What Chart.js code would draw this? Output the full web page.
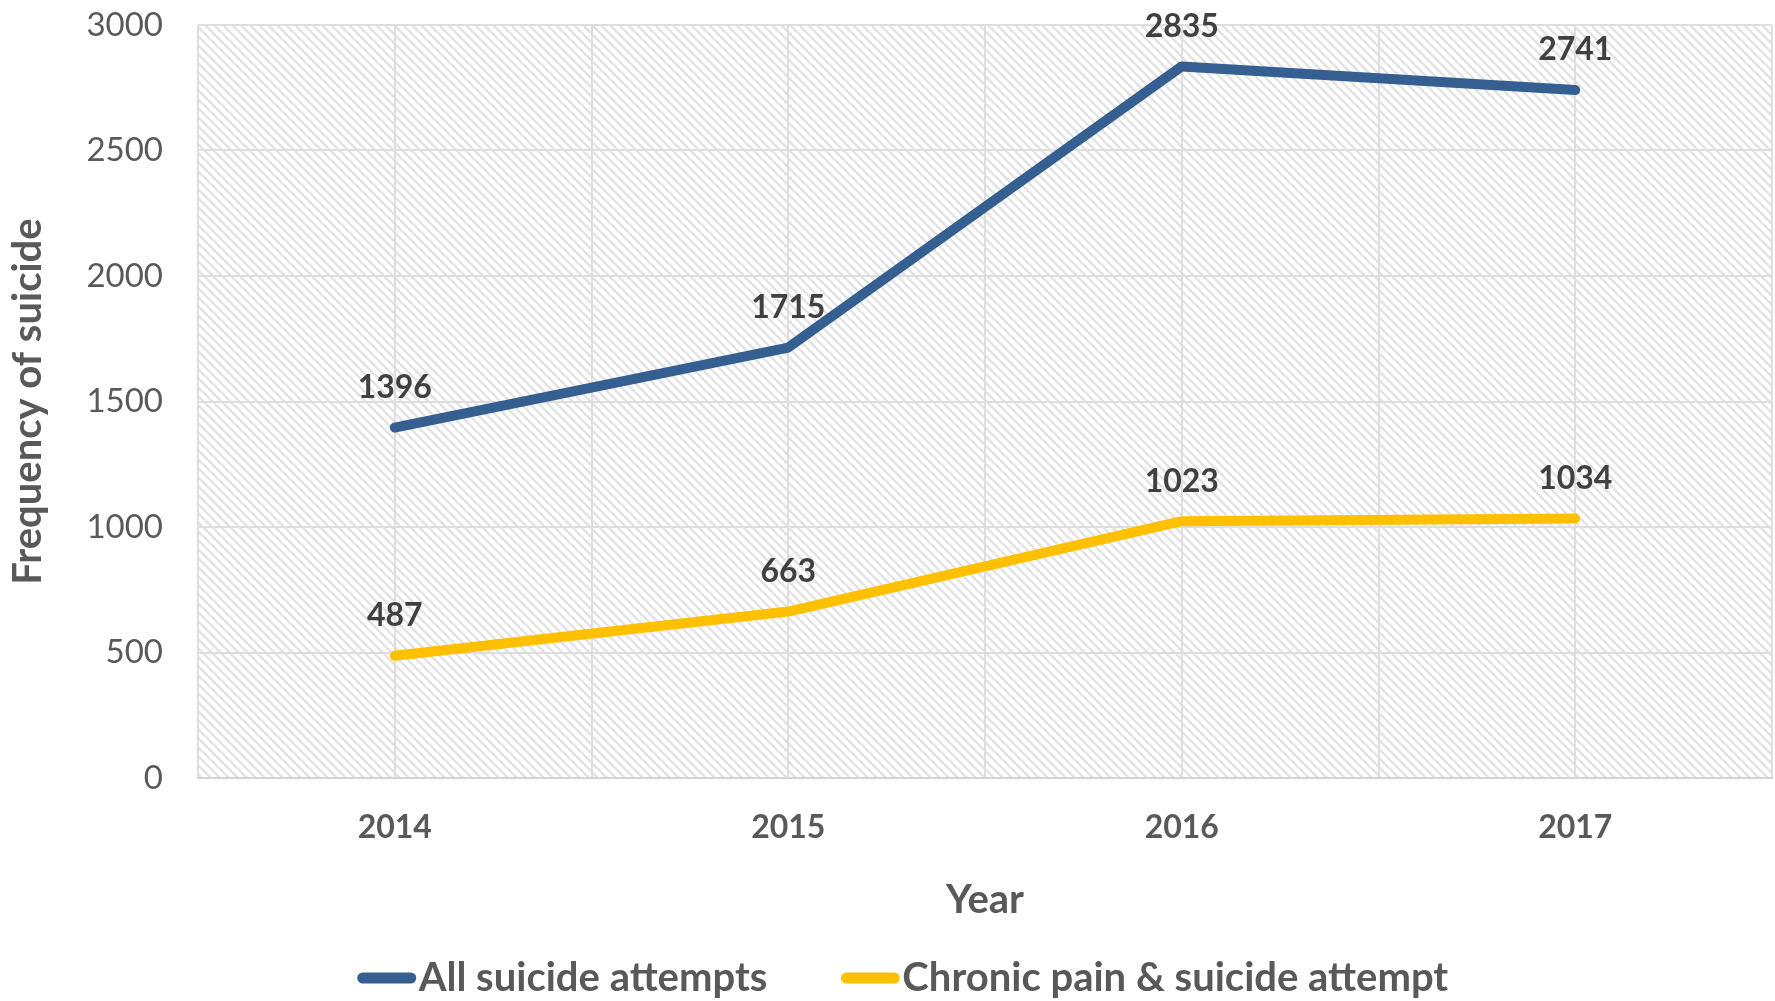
<!DOCTYPE html>
<html>
<head>
<meta charset="utf-8">
<title>Frequency of suicide</title>
<script src="https://cdn.jsdelivr.net/npm/chart.js@4/dist/chart.umd.min.js"></script>
<style>
  html, body { margin: 0; padding: 0; background: #fff; }
  #wrap { width: 1775px; height: 1001px; }
</style>
</head>
<body>
<div id="wrap"><canvas id="chart" width="1775" height="1001"></canvas></div>
<script>
// Yearly suicide attempt counts, all vs. with chronic pain
const years = ['2014', '2015', '2016', '2017'];
const allAttempts = [1396, 1715, 2835, 2741];
const chronicPain = [487, 663, 1023, 1034];
const seriesNames = ['All suicide attempts', 'Chronic pain & suicide attempt'];
const seriesColors = ['#365F91', '#FFC000'];

const FONT = 'Lato, "Open Sans", sans-serif';
const GRID = '#dedede';

// diagonal hatch behind the plot
function makeHatch(ctx) {
  const s = 9;
  const c = document.createElement('canvas');
  c.width = s; c.height = s;
  const g = c.getContext('2d');
  g.fillStyle = '#ffffff';
  g.fillRect(0, 0, s, s);
  g.strokeStyle = '#e3e3e3';
  g.lineWidth = 2.5;
  for (let k = -1; k <= 1; k++) {
    g.beginPath();
    g.moveTo(-1, k * s - 1);
    g.lineTo(s + 1, s + k * s + 1);
    g.stroke();
  }
  return ctx.createPattern(c, 'repeat');
}

const hatchPlugin = {
  id: 'hatch',
  beforeDraw(chart) {
    const { ctx, chartArea: a } = chart;
    ctx.save();
    ctx.fillStyle = makeHatch(ctx);
    ctx.fillRect(a.left, a.top, a.right - a.left, a.bottom - a.top);
    ctx.restore();
  }
};

// extra vertical lines through each category centre
const centerLines = {
  id: 'centerLines',
  beforeDatasetsDraw(chart) {
    const { ctx, chartArea: a, scales } = chart;
    ctx.save();
    ctx.strokeStyle = GRID;
    ctx.lineWidth = 2;
    years.forEach((y, i) => {
      const x = Math.round(scales.x.getPixelForValue(i));
      ctx.beginPath();
      ctx.moveTo(x, a.top);
      ctx.lineTo(x, a.bottom);
      ctx.stroke();
    });
    ctx.restore();
  }
};

const valueLabels = {
  id: 'valueLabels',
  afterDatasetsDraw(chart) {
    const { ctx } = chart;
    ctx.save();
    ctx.font = 'bold 32px ' + FONT;
    ctx.fillStyle = '#404040';
    ctx.textAlign = 'center';
    ctx.textBaseline = 'middle';
    chart.data.datasets.forEach((ds, di) => {
      const meta = chart.getDatasetMeta(di);
      meta.data.forEach((pt, i) => {
        ctx.fillText(String(ds.data[i]), pt.x, pt.y - 40);
      });
    });
    ctx.restore();
  }
};

// legend drawn by hand so the sample line sits right against the text
const lineLegend = {
  id: 'lineLegend',
  afterDraw(chart) {
    const { ctx } = chart;
    const lineW = 60, gap = 2, spacing = 73;
    const cy = 978;
    ctx.save();
    ctx.font = 'bold 40px ' + FONT;
    ctx.textBaseline = 'middle';
    const items = chart.data.datasets.map(ds => ({
      text: ds.label, color: ds.borderColor, w: ctx.measureText(ds.label).width
    }));
    let total = 0;
    items.forEach((it, i) => { total += lineW + gap + it.w + (i ? spacing : 0); });
    let x = chart.width / 2 + 15 - total / 2;
    items.forEach(it => {
      ctx.strokeStyle = it.color;
      ctx.lineWidth = 11;
      ctx.lineCap = 'round';
      ctx.beginPath();
      ctx.moveTo(x + 6, cy);
      ctx.lineTo(x + lineW - 6, cy);
      ctx.stroke();
      ctx.fillStyle = '#595959';
      ctx.fillText(it.text, x + lineW + gap, cy);
      x += lineW + gap + it.w + spacing;
    });
    ctx.restore();
  }
};

const makeSeries = (label, data, color) => ({
  label,
  data,
  borderColor: color,
  backgroundColor: color,
  borderWidth: 10,
  borderCapStyle: 'round',
  borderJoinStyle: 'round',
  pointRadius: 0,
  tension: 0,
  fill: false
});

new Chart(document.getElementById('chart'), {
  type: 'line',
  data: {
    labels: years,
    datasets: [
      makeSeries(seriesNames[0], allAttempts, seriesColors[0]),
      makeSeries(seriesNames[1], chronicPain, seriesColors[1])
    ]
  },
  options: {
    responsive: false,
    animation: false,
    layout: { padding: { left: 0, right: 3, top: 25, bottom: 73 } },
    scales: {
      x: {
        offset: true,
        grid: { offset: true, color: GRID, lineWidth: 2, drawTicks: false },
        border: { color: '#d4d4d4', width: 2 },
        ticks: { padding: 30, color: '#595959', font: { family: FONT, size: 32, weight: 'bold' } },
        title: {
          display: true, text: 'Year', color: '#595959',
          font: { family: FONT, size: 40, weight: 'bold' },
          padding: { top: 0, bottom: 4 }
        },
        afterFit(scale) { scale.height = 150; }
      },
      y: {
        min: 0,
        max: 3000,
        ticks: {
          stepSize: 500, padding: 35, color: '#595959',
          font: { family: FONT, size: 33 },
          callback: v => String(v)
        },
        grid: { color: GRID, lineWidth: 2, drawTicks: false },
        border: { display: false },
        title: {
          display: true, text: 'Frequency of suicide', color: '#595959',
          font: { family: FONT, size: 40, weight: 'bold' },
          padding: { top: 4, bottom: 0 }
        },
        afterFit(scale) {
          scale.width = 198;
          scale.paddingTop = 0;
          scale.paddingBottom = 0;
        }
      }
    },
    plugins: {
      legend: { display: false },
      tooltip: { enabled: false }
    }
  },
  plugins: [hatchPlugin, centerLines, valueLabels, lineLegend]
});
</script>
</body>
</html>
